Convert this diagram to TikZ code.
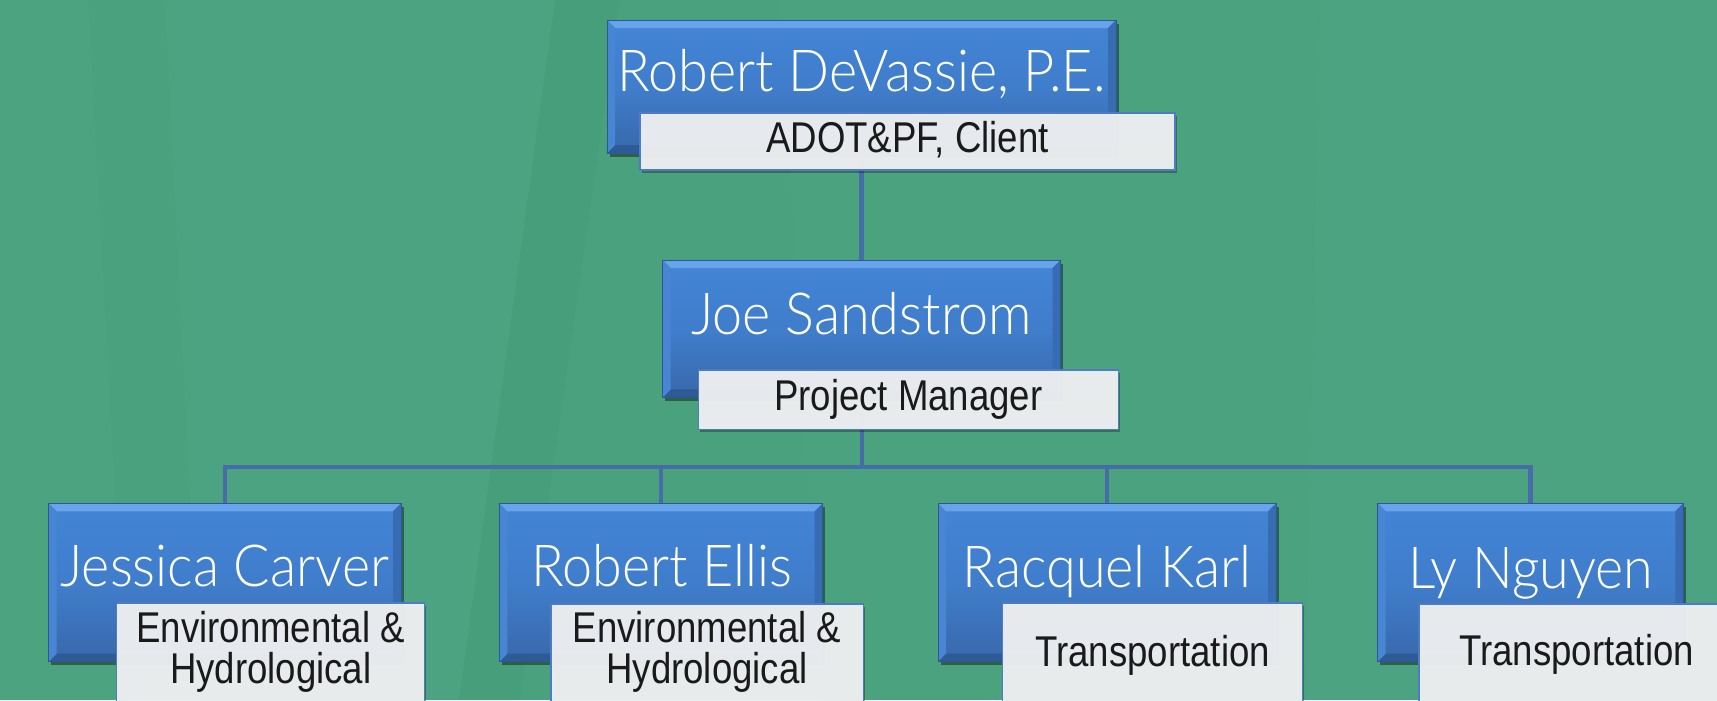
\documentclass[tikz,border=0pt]{standalone}
\usepackage{fontspec}
\setmainfont{Liberation Sans}
\IfFontExistsTF{Lato Light}{\newfontfamily\namefont{Lato Light}[FakeStretch=0.93]}{\newfontfamily\namefont{Lato}[FakeStretch=0.93]}
\newfontfamily\rolefont{Liberation Sans}[FakeStretch=0.85]
\usetikzlibrary{shadows}

\definecolor{bggreen}{RGB}{73,161,126}
\definecolor{bglight}{RGB}{84,170,136}
\definecolor{bgdark}{RGB}{66,154,118}
\definecolor{conncol}{RGB}{72,108,168}
\definecolor{bluemain}{RGB}{66,131,212}
\definecolor{bluelow}{RGB}{56,104,170}
\definecolor{bluehi}{RGB}{104,164,236}
\definecolor{blueedge}{RGB}{44,88,150}
\definecolor{bevright}{RGB}{56,108,178}
\definecolor{bevbottom}{RGB}{46,90,150}
\definecolor{bevleft}{RGB}{72,134,212}
\definecolor{rolefill}{RGB}{237,239,241}
\definecolor{roleedge}{RGB}{78,124,196}
\definecolor{roletext}{RGB}{26,26,26}

\pgfdeclarelayer{bg}
\pgfdeclarelayer{lines}
\pgfsetlayers{bg,lines,main}

\pgfdeclareverticalshading{boxshade}{100bp}{color(0bp)=(bluelow); color(25bp)=(bluelow); color(50bp)=(bluemain!80!bluelow); color(70bp)=(bluemain); color(100bp)=(bluemain)}

\tikzset{
  bw/.style={minimum width=#1*0.02cm},
  bh/.style={minimum height=#1*0.02cm},
  bluebox/.style={rectangle, inner sep=0pt, shading=boxshade,
    draw=blueedge, line width=0.5pt,
    drop shadow={shadow xshift=0.05cm, shadow yshift=-0.07cm, opacity=0.4, fill=black},
    path picture={
      \fill[bluehi] (path picture bounding box.north west) -- (path picture bounding box.north east)
        -- ([xshift=-0.16cm,yshift=-0.16cm]path picture bounding box.north east)
        -- ([xshift=0.16cm,yshift=-0.16cm]path picture bounding box.north west) -- cycle;
      \fill[bevright] (path picture bounding box.north east) -- (path picture bounding box.south east)
        -- ([xshift=-0.16cm,yshift=0.16cm]path picture bounding box.south east)
        -- ([xshift=-0.16cm,yshift=-0.16cm]path picture bounding box.north east) -- cycle;
      \fill[bevbottom] (path picture bounding box.south west) -- (path picture bounding box.south east)
        -- ([xshift=-0.16cm,yshift=0.16cm]path picture bounding box.south east)
        -- ([xshift=0.16cm,yshift=0.16cm]path picture bounding box.south west) -- cycle;
      \fill[bevleft] (path picture bounding box.north west) -- (path picture bounding box.south west)
        -- ([xshift=0.16cm,yshift=0.16cm]path picture bounding box.south west)
        -- ([xshift=0.16cm,yshift=-0.16cm]path picture bounding box.north west) -- cycle;
    }},
  rolebox/.style={rectangle, inner sep=0pt, fill=rolefill, fill opacity=0.97,
    draw=roleedge, draw opacity=1, line width=0.7pt,
    drop shadow={shadow xshift=0.03cm, shadow yshift=-0.05cm, opacity=0.3, fill=black}},
  nametext/.style={anchor=base, inner sep=0pt, text=white, font=\namefont\fontsize{33}{36}\selectfont},
  roletext/.style={anchor=base, inner sep=0pt, text=roletext, align=center,
    font=\rolefont\fontsize{24.5}{23.1}\selectfont},
  conn/.style={draw=conncol, line width=0.086cm, line join=miter},
}

\begin{document}
\begin{tikzpicture}[x=0.02cm, y=-0.02cm]
\useasboundingbox (0,0) rectangle (1717,700);
\clip (0,0) rectangle (1717,700);

% backdrop with soft vertical bands
\begin{pgfonlayer}{bg}
\fill[bggreen] (0,0) rectangle (1717,700);
\fill[bglight, opacity=0.25] (0,0) -- (88,0) -- (126,700) -- (0,700) -- cycle;
\fill[bglight, opacity=0.3] (165,0) -- (555,0) -- (459,700) -- (200,700) -- cycle;
\fill[bgdark, opacity=0.3] (555,0) -- (620,0) -- (520,700) -- (459,700) -- cycle;
\fill[bglight, opacity=0.15] (780,0) -- (1320,0) -- (1305,700) -- (820,700) -- cycle;
\fill[bglight, opacity=0.3] (1320,0) -- (1717,0) -- (1717,700) -- (1305,700) -- cycle;
\end{pgfonlayer}

% blue name boxes
\node[bluebox, bw=509, bh=133]     (b1) at (861.5,86.5) {};
\node[bluebox, bw=398, bh=137.3]   (b2) at (861.7,328.65) {};
\node[bluebox, bw=352.4, bh=158.4] (b3) at (224.8,582.5) {};
\node[bluebox, bw=323.4, bh=158.4] (b4) at (661,582.5) {};
\node[bluebox, bw=338, bh=158.4]   (b5) at (1107,582.5) {};
\node[bluebox, bw=305.6, bh=158.4] (b6) at (1530.5,582.5) {};

% names
\node[nametext] (n1) at (861.5,91.7) {Robert DeVassie, P.E.};
\node[nametext] (n2) at (861.7,334.3) {Joe Sandstrom};
\node[nametext] (n3) at (224.8,586.7) {Jessica Carver};
\node[nametext] (n4) at (661.7,586.7) {Robert Ellis};
\node[nametext] (n5) at (1107,587) {Racquel Karl};
\node[nametext] (n6) at (1531,588) {Ly Nguyen};

% role boxes
\node[rolebox, bw=535, bh=57]      (w1) at (907.5,141.5) {};
\node[rolebox, bw=420, bh=59.3]    (w2) at (908.3,399.65) {};
\node[rolebox, bw=308.1, bh=118]   (w3) at (270.75,662) {};
\node[rolebox, bw=312.3, bh=117]   (w4) at (707.15,662.5) {};
\node[rolebox, bw=300.1, bh=118]   (w5) at (1152.65,662) {};
\node[rolebox, bw=316, bh=117]     (w6) at (1577,662.5) {};

% role texts (two-line nodes sit on the baseline of their last line)
\node[roletext] (r1) at (907.5,152) {ADOT\&PF, Client};
\node[roletext] (r2) at (908.3,410) {Project Manager};
\node[roletext] (r3) at (270.7,683.5) {Environmental \&\\Hydrological};
\node[roletext] (r4) at (707,683.5) {Environmental \&\\Hydrological};
\node[roletext] (r5) at (1152.6,666.7) {Transportation};
\node[roletext] (r6) at (1576.7,665) {Transportation};

% reporting lines
\coordinate (bar) at (0,466.7);
\begin{pgfonlayer}{lines}
\draw[conn] (b1.south) -- (b1.south |- b2.north);
\draw[conn] (b2.south) -- (b2.south |- bar);
\draw[conn] (b3.north) -- (b3.north |- bar) -- (b6.north |- bar) -- (b6.north);
\draw[conn] (b4.north) -- (b4.north |- bar);
\draw[conn] (b5.north) -- (b5.north |- bar);
\end{pgfonlayer}
\end{tikzpicture}
\end{document}
